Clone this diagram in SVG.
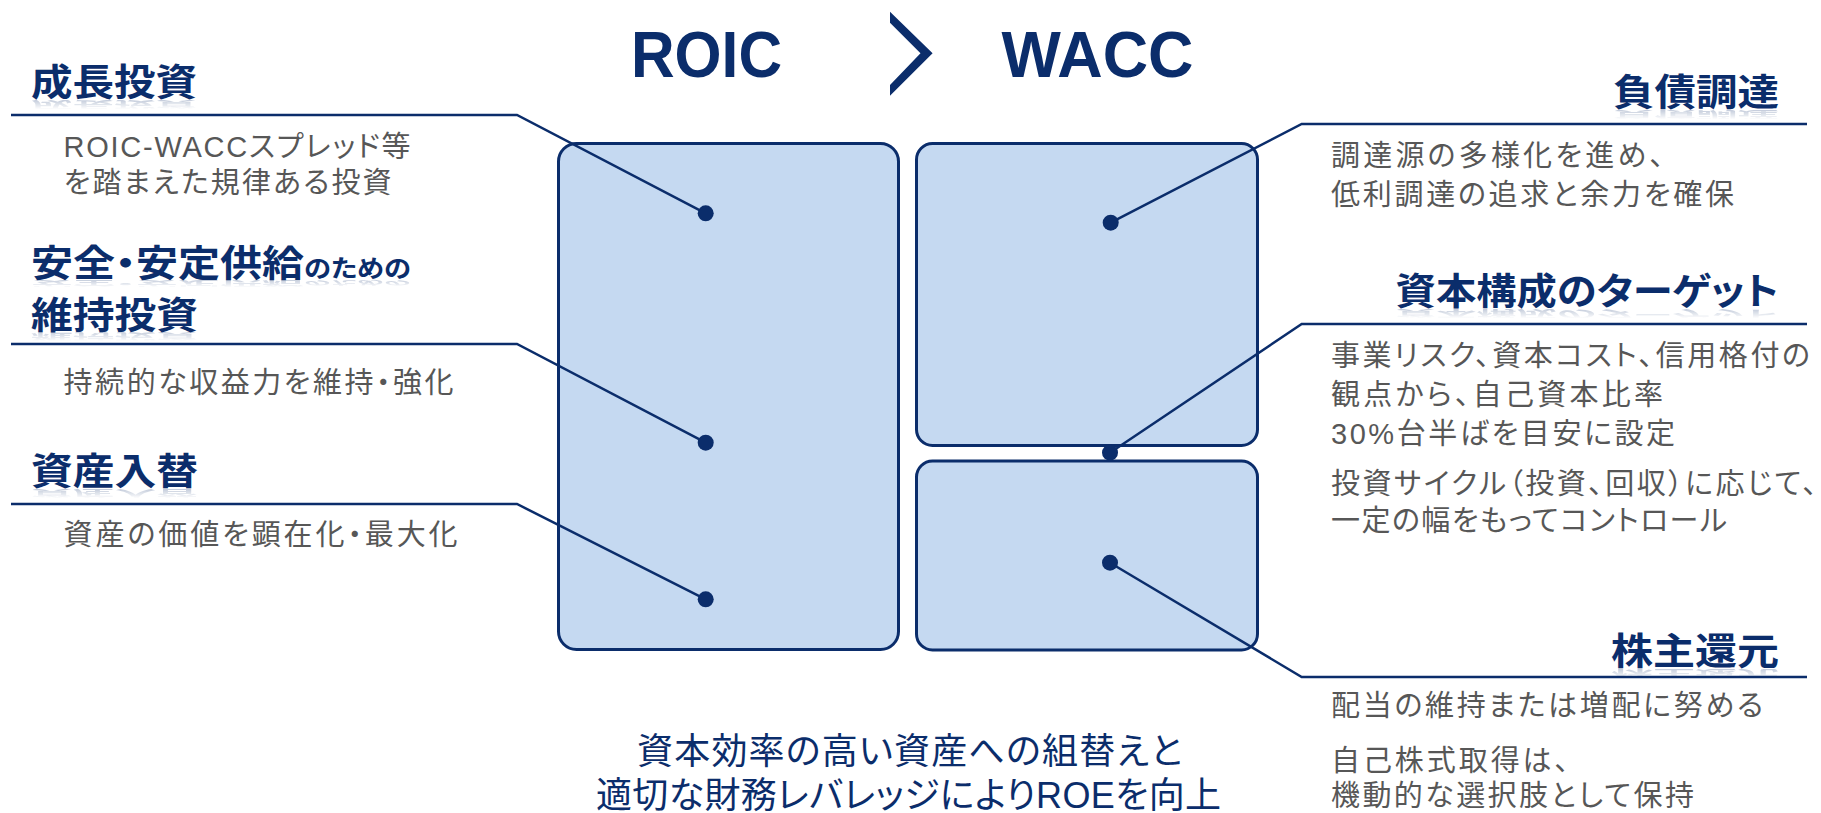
<svg xmlns="http://www.w3.org/2000/svg" xmlns:xlink="http://www.w3.org/1999/xlink" width="1821" height="813" viewBox="0 0 1821 813">
<style>
.hd{font-family:"Noto Sans CJK JP","Noto Sans CJK SC",sans-serif;font-weight:700;fill:#0b2d6b;font-size:37px;font-feature-settings:"palt"}
.bd{font-family:"Liberation Sans","Noto Sans CJK JP",sans-serif;fill:#575757;font-size:29px;font-feature-settings:"palt"}
.ft{font-family:"Liberation Sans","Noto Sans CJK JP",sans-serif;fill:#0b2d6b;font-size:36px;font-feature-settings:"palt"}
.ttl{font-family:"Liberation Sans",Arial,sans-serif;font-weight:700;fill:#0b2d6b;font-size:65px}
.box{fill:#c5d9f1;stroke:#0b2d6b;stroke-width:3}
.con{fill:none;stroke:#0b2d6b;stroke-width:2.5;stroke-linejoin:miter}
.dot{fill:#0b2d6b}
</style>
<defs>
<linearGradient id="rg" x1="0" y1="0" x2="0" y2="1">
<stop offset="0.3" stop-color="#fff" stop-opacity="0"/>
<stop offset="1" stop-color="#fff" stop-opacity="0.3"/>
</linearGradient>
<mask id="rm" maskContentUnits="objectBoundingBox">
<rect width="1" height="1" fill="url(#rg)"/>
</mask>
</defs>
<rect width="1821" height="813" fill="#ffffff"/>

<g id="title">
<text class="ttl" x="631" y="77" textLength="151" lengthAdjust="spacingAndGlyphs">ROIC</text>
<polygon points="890,11.7 932.6,53.3 890,95.7 890,85 920.5,53.3 890,22.7" fill="#0b2d6b"/>
<text class="ttl" x="1001.5" y="77" textLength="192" lengthAdjust="spacingAndGlyphs">WACC</text>
</g>

<g id="box-roic"><rect class="box" x="558.5" y="143.5" width="340" height="506" rx="18"/></g>
<g id="box-debt"><rect class="box" x="916.5" y="143.5" width="341" height="302" rx="16"/></g>
<g id="box-equity"><rect class="box" x="916.5" y="461" width="341" height="189" rx="16"/></g>

<g id="connectors">
<polyline class="con" points="11,115 517,115 705.7,213.3"/>
<polyline class="con" points="11,344 517,344 705.7,442.7"/>
<polyline class="con" points="11,504 517,504 705.7,599.3"/>
<polyline class="con" points="1110.7,222.7 1301.7,124 1807,124"/>
<polyline class="con" points="1110,452.7 1301.7,324 1807,324"/>
<polyline class="con" points="1110,562.7 1301.7,677 1807,677"/>
<circle class="dot" cx="705.7" cy="213.3" r="8"/>
<circle class="dot" cx="705.7" cy="442.7" r="8"/>
<circle class="dot" cx="705.7" cy="599.3" r="8"/>
<circle class="dot" cx="1110.7" cy="222.7" r="8"/>
<circle class="dot" cx="1110" cy="452.7" r="8"/>
<circle class="dot" cx="1110" cy="562.7" r="8"/>
</g>

<g id="growth">
<text id="h1" class="hd" x="31" y="96" textLength="166" lengthAdjust="spacingAndGlyphs">成長投資</text>
<use href="#h1" transform="translate(0,100) scale(1,-0.3) translate(0,-100)" mask="url(#rm)"/>
<text class="bd" x="63.6" y="156.7" textLength="347">ROIC-WACCスプレッド等</text>
<text class="bd" x="63.6" y="193" textLength="328">を踏まえた規律ある投資</text>
</g>

<g id="maintenance">
<text id="h2" class="hd" x="31" y="277" textLength="380" lengthAdjust="spacingAndGlyphs"><tspan>安全・安定供給</tspan><tspan font-size="24">のための</tspan></text>
<use href="#h2" transform="translate(0,280) scale(1,-0.25) translate(0,-280)" mask="url(#rm)"/>
<text id="h3" class="hd" x="31" y="329" textLength="167" lengthAdjust="spacingAndGlyphs">維持投資</text>
<use href="#h3" transform="translate(0,332) scale(1,-0.3) translate(0,-332)" mask="url(#rm)"/>
<text class="bd" x="63.6" y="393" textLength="390">持続的な収益力を維持・強化</text>
</g>

<g id="replacement">
<text id="h4" class="hd" x="31" y="485" textLength="167" lengthAdjust="spacingAndGlyphs">資産入替</text>
<use href="#h4" transform="translate(0,489) scale(1,-0.3) translate(0,-489)" mask="url(#rm)"/>
<text class="bd" x="63.6" y="544.5" textLength="394">資産の価値を顕在化・最大化</text>
</g>

<g id="debt">
<text id="h5" class="hd" x="1613" y="106" textLength="166" lengthAdjust="spacingAndGlyphs">負債調達</text>
<use href="#h5" transform="translate(0,110) scale(1,-0.3) translate(0,-110)" mask="url(#rm)"/>
<text class="bd" x="1331" y="166" textLength="333">調達源の多様化を進め、</text>
<text class="bd" x="1331" y="204.5" textLength="403">低利調達の追求と余力を確保</text>
</g>

<g id="capital-structure">
<text id="h6" class="hd" x="1395.6" y="305" textLength="383" lengthAdjust="spacingAndGlyphs">資本構成のターゲット</text>
<use href="#h6" transform="translate(0,309) scale(1,-0.3) translate(0,-309)" mask="url(#rm)"/>
<text class="bd" x="1331" y="366" textLength="479">事業リスク、資本コスト、信用格付の</text>
<text class="bd" x="1331" y="404.5" textLength="332">観点から、自己資本比率</text>
<text class="bd" x="1331" y="443.5" textLength="344">30%台半ばを目安に設定</text>
<text class="bd" x="1331" y="494" textLength="486">投資サイクル（投資、回収）に応じて、</text>
<text class="bd" x="1331" y="531" textLength="396">一定の幅をもってコントロール</text>
</g>

<g id="shareholder-return">
<text id="h7" class="hd" x="1611" y="665" textLength="168" lengthAdjust="spacingAndGlyphs">株主還元</text>
<use href="#h7" transform="translate(0,669) scale(1,-0.3) translate(0,-669)" mask="url(#rm)"/>
<text class="bd" x="1331" y="716" textLength="432">配当の維持または増配に努める</text>
<text class="bd" x="1331" y="771" textLength="238">自己株式取得は、</text>
<text class="bd" x="1331" y="806" textLength="363">機動的な選択肢として保持</text>
</g>

<g id="summary">
<text class="ft" x="637" y="764" textLength="545">資本効率の高い資産への組替えと</text>
<text class="ft" x="596" y="808" textLength="625">適切な財務レバレッジによりROEを向上</text>
</g>
</svg>
